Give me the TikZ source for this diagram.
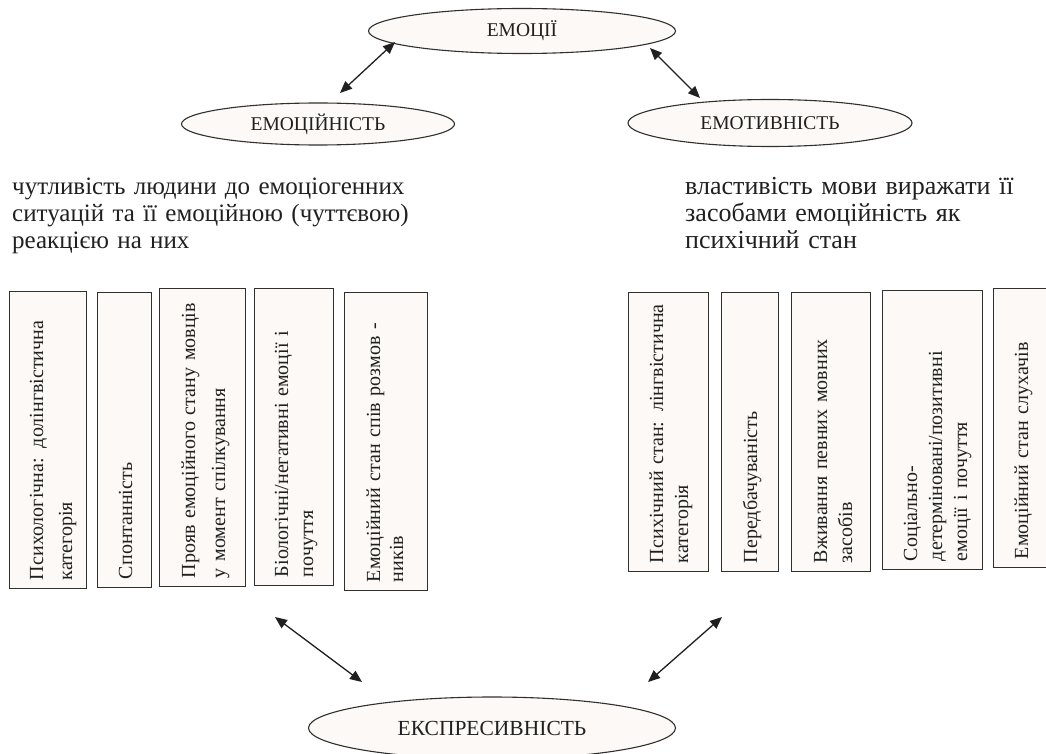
\documentclass[tikz,border=0pt]{standalone}
\usepackage{fontspec}
\setmainfont{Liberation Serif}
\usetikzlibrary{shapes.geometric,arrows.meta,calc}
\definecolor{lc}{HTML}{303030}
\definecolor{fc}{HTML}{FCF9F6}
\definecolor{tc}{HTML}{202020}
\begin{document}
\begin{tikzpicture}[x=1pt,y=-1pt,
  ell/.style={draw=lc, fill=fc, ellipse, line width=1.1pt, inner sep=0pt, text=tc, font=\fontsize{19.5}{22}\selectfont},
  cbox/.style={draw=lc, fill=fc, line width=1.2pt, rectangle, inner sep=0pt, anchor=north west},
  vtext/.style={rotate=90, anchor=base west, inner sep=0pt, align=left, text width=300pt, text=tc, font=\fontsize{20}{25}\selectfont},
  body/.style={anchor=base west, inner sep=0pt, align=left, text width=420pt, text=tc, font=\fontsize{25}{26.5}\selectfont},
  dbl/.style={{Triangle[length=12pt,width=10pt]}-{Triangle[length=12pt,width=10pt]}, line width=1.3pt, draw=tc}]
\useasboundingbox (0,0) rectangle (1046,754);
\clip (0,0) rectangle (1046,754);
\fill[white] (0,0) rectangle (1046,754);

% ellipses
\node[ell, minimum width=307, minimum height=45] (emo) at (522,31) {ЕМОЦІЇ};
\node[ell, minimum width=273, minimum height=42] (emn) at (318,124) {ЕМОЦІЙНІСТЬ};
\node[ell, minimum width=284, minimum height=47] (emt) at (770,123) {ЕМОТИВНІСТЬ};
\node[ell, minimum width=367, minimum height=62, font=\fontsize{21.5}{24}\selectfont] (eks) at (492,728) {ЕКСПРЕСИВНІСТЬ};

% arrow ends
\coordinate (a1s) at (340,93); \coordinate (a1e) at (395,42);
\coordinate (a2s) at (650,48); \coordinate (a2e) at (700,98);
\coordinate (a3s) at (275,617); \coordinate (a3e) at (362,682);
\coordinate (a4s) at (722,617); \coordinate (a4e) at (648,682);
\draw[dbl] (a1s) -- (a1e);
\draw[dbl] (a2s) -- (a2e);
\draw[dbl] (a3s) -- (a3e);
\draw[dbl] (a4s) -- (a4e);

% body texts
\node[body] (tl) at (12,195) {чутливість людини до емоціогенних\\ситуацій та її емоційною (чуттєвою)\\реакцією на них};
\node[body, font=\fontsize{26}{26.5}\selectfont] (tr) at (685,195) {властивість мови виражати її\\засобами емоційність як\\психічний стан};

% left boxes
\node[cbox, minimum width=77, minimum height=297] (b1) at (9,291) {};
\node[cbox, minimum width=54, minimum height=295] (b2) at (97,292) {};
\node[cbox, minimum width=86, minimum height=298] (b3) at (159,288) {};
\node[cbox, minimum width=79, minimum height=297] (b4) at (254,288) {};
\node[cbox, minimum width=83, minimum height=298] (b5) at (344,292) {};

\node[vtext] (t1) at ($(b1.south west)+(34,-9)$) {\makebox[262pt][s]{Психологічна: долінгвістична}\\[4pt]категорія};
\node[vtext] (t2) at ($(b2.south west)+(35,-9)$) {Спонтанність};
\node[vtext] (t3) at ($(b3.south west)+(36,-9)$) {Прояв емоційного стану мовців\\[5pt]у момент спілкування};
\node[vtext] (t4) at ($(b4.south west)+(34,-9)$) {Біологічні/негативні емоції і\\почуття};
\node[vtext] (t5) at ($(b5.south west)+(36,-9)$) {Емоційний стан спів розмов -\\[-2pt]ників};

% right boxes
\node[cbox, minimum width=80, minimum height=279] (c1) at (628,292) {};
\node[cbox, minimum width=57, minimum height=279] (c2) at (721,292) {};
\node[cbox, minimum width=79, minimum height=279] (c3) at (791,292) {};
\node[cbox, minimum width=100, minimum height=279] (c4) at (882,290) {};
\node[cbox, minimum width=70, minimum height=279] (c5) at (993,288) {};

\node[vtext] (u1) at ($(c1.south west)+(35,-9)$) {Психічний стан: лінгвістична\\категорія};
\node[vtext] (u2) at ($(c2.south west)+(36,-9)$) {Передбачуваність};
\node[vtext] (u3) at ($(c3.south west)+(36,-9)$) {Вживання певних мовних\\засобів};
\node[vtext] (u4) at ($(c4.south west)+(35,-9)$) {Соціально-\\детерміновані/позитивні\\емоції і почуття};
\node[vtext] (u5) at ($(c5.south west)+(35,-9)$) {Емоційний стан слухачів};
\end{tikzpicture}
\end{document}
